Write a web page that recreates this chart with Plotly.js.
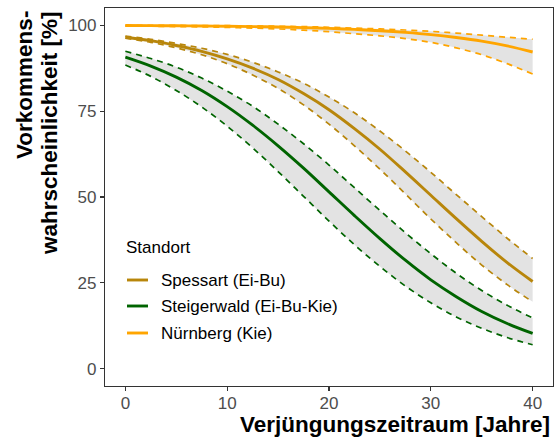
<!DOCTYPE html>
<html>
<head>
<meta charset="utf-8">
<script src="https://cdn.plot.ly/plotly-3.0.1.min.js"></script>
<style>html,body{margin:0;padding:0;background:#fff;}#chart{width:554px;height:441px;}</style>
</head>
<body>
<div id="chart"></div>
<script>
// Verjüngungszeitraum [Jahre]
const years = [0,2.5,5,7.5,10,12.5,15,17.5,20,22.5,25,27.5,30,32.5,35,37.5,40];

// Spessart (Ei-Bu)
const spessartFit   = [96.5,95.5,94.1,92.4,90.2,87.5,84.2,80.1,75.4,69.9,63.9,57.3,50.5,43.7,37.1,30.9,25.4];
const spessartUpper = [96.8,95.9,94.7,93.3,91.5,89.2,86.4,83.1,79.1,74.5,69.2,63.4,57.2,50.7,44.3,38.0,32.1];
const spessartLower = [96.2,95.0,93.4,91.4,88.8,85.5,81.6,76.8,71.2,64.9,58.1,50.9,43.6,36.7,30.2,24.5,19.5];

// Steigerwald (Ei-Bu-Kie)
const steigerFit   = [90.7,88.1,84.9,81.0,76.3,70.9,64.9,58.4,51.5,44.6,37.9,31.6,25.9,21.0,16.7,13.2,10.3];
const steigerUpper = [92.4,90.3,87.8,84.6,80.8,76.4,71.2,65.5,59.3,52.7,46.1,39.6,33.5,27.8,22.8,18.5,14.8];
const steigerLower = [88.4,85.1,81.0,76.2,70.6,64.3,57.4,50.2,43.0,36.1,29.8,24.1,19.2,15.1,11.8,9.1,7.0];

// Nürnberg (Kie)
const nuernbergFit   = [99.9,99.86,99.82,99.76,99.69,99.59,99.46,99.29,99.07,98.78,98.4,97.9,97.26,96.4,95.35,93.96,92.2];
const nuernbergUpper = [99.95,99.94,99.92,99.89,99.85,99.8,99.7,99.58,99.4,99.15,98.9,98.6,98.2,97.7,97.1,96.5,95.9];
const nuernbergLower = [99.75,99.7,99.6,99.5,99.35,99.15,98.9,98.55,98.1,97.5,96.9,96.1,95.0,93.4,91.4,88.8,85.8];

const siteNames = ['Spessart (Ei-Bu)', 'Steigerwald (Ei-Bu-Kie)', 'Nürnberg (Kie)'];
const legendTitle = 'Standort';
const xTicks = [0,10,20,30,40];
const yTicks = [0,25,50,75,100];

const sites = [
  {name: siteNames[0], fit: spessartFit, up: spessartUpper, lo: spessartLower, color: '#B8860B'},
  {name: siteNames[1], fit: steigerFit, up: steigerUpper, lo: steigerLower, color: '#006400'},
  {name: siteNames[2], fit: nuernbergFit, up: nuernbergUpper, lo: nuernbergLower, color: '#FFA500'}
];

const FONT = 'Liberation Sans, Arial, sans-serif';
const traces = [];
// ribbons
sites.forEach(s => {
  traces.push({x: years, y: s.lo, type: 'scatter', mode: 'lines', line: {width: 0, shape: 'spline'}, hoverinfo: 'skip', showlegend: false});
  traces.push({x: years, y: s.up, type: 'scatter', mode: 'lines', line: {width: 0, shape: 'spline'}, fill: 'tonexty', fillcolor: '#E3E3E3', hoverinfo: 'skip', showlegend: false});
});
// dashed bounds
sites.forEach(s => {
  [s.up, s.lo].forEach(arr => traces.push({x: years, y: arr, type: 'scatter', mode: 'lines',
    line: {color: s.color, width: 1.7, dash: '6px,5px', shape: 'spline'}, showlegend: false}));
});
// fitted lines
sites.forEach(s => {
  traces.push({x: years, y: s.fit, type: 'scatter', mode: 'lines', name: s.name,
    line: {color: s.color, width: 2.9, shape: 'spline'}, showlegend: false});
});

// Plot geometry helpers (paper coords)
const W = 554, H = 441, ML = 105, MR = 1, MT = 8, MB = 55;
const PW = W - ML - MR, PH = H - MT - MB;
const px = v => (v - ML) / PW;
const py = v => 1 - (v - MT) / PH;

const titleFont = {family: FONT, size: 22.5, color: '#000000', weight: 'bold'};
const annotations = [
  {text: 'Verjüngungszeitraum [Jahre]', xref: 'paper', yref: 'paper', x: px(552), y: py(424), xanchor: 'right', yanchor: 'middle', showarrow: false, font: titleFont},
  {text: 'Vorkommens-', textangle: -90, xref: 'paper', yref: 'paper', x: px(24), y: py(9), xanchor: 'center', yanchor: 'top', showarrow: false, font: titleFont},
  {text: 'wahrscheinlichkeit [%]', textangle: -90, xref: 'paper', yref: 'paper', x: px(49), y: py(9), xanchor: 'center', yanchor: 'top', showarrow: false, font: titleFont},
  {text: legendTitle, xref: 'paper', yref: 'paper', x: px(124), y: py(247), xanchor: 'left', yanchor: 'middle', showarrow: false,
   font: {family: FONT, size: 17, color: '#000000'}}
];
const shapes = [];
const itemY = [280, 306, 333];
sites.forEach((s, i) => {
  annotations.push({text: s.name, xref: 'paper', yref: 'paper', x: px(159), y: py(itemY[i]), xanchor: 'left', yanchor: 'middle', showarrow: false,
    font: {family: FONT, size: 17, color: '#000000'}});
  shapes.push({type: 'line', xref: 'paper', yref: 'paper', x0: px(127), x1: px(148), y0: py(itemY[i]), y1: py(itemY[i]),
    line: {color: s.color, width: 2.9}});
});

const axisCommon = {
  showgrid: false, zeroline: false, showline: true, mirror: true, linecolor: '#333333', linewidth: 1.1,
  ticks: 'outside', ticklen: 4, tickwidth: 1.1, tickcolor: '#333333',
  tickfont: {family: FONT, size: 17, color: '#4D4D4D'}
};

const layout = {
  width: W, height: H,
  margin: {l: ML, r: MR, t: MT, b: MB, pad: 0},
  paper_bgcolor: '#FFFFFF', plot_bgcolor: '#FFFFFF',
  showlegend: false,
  xaxis: Object.assign({}, axisCommon, {range: [-2, 42], tickmode: 'array', tickvals: xTicks, ticktext: xTicks.map(String), ticklabelstandoff: -3}),
  yaxis: Object.assign({}, axisCommon, {range: [-5, 105], tickmode: 'array', tickvals: yTicks, ticktext: yTicks.map(String)}),
  annotations: annotations,
  shapes: shapes
};

Plotly.newPlot('chart', traces, layout, {staticPlot: true, displayModeBar: false});
</script>
</body>
</html>
